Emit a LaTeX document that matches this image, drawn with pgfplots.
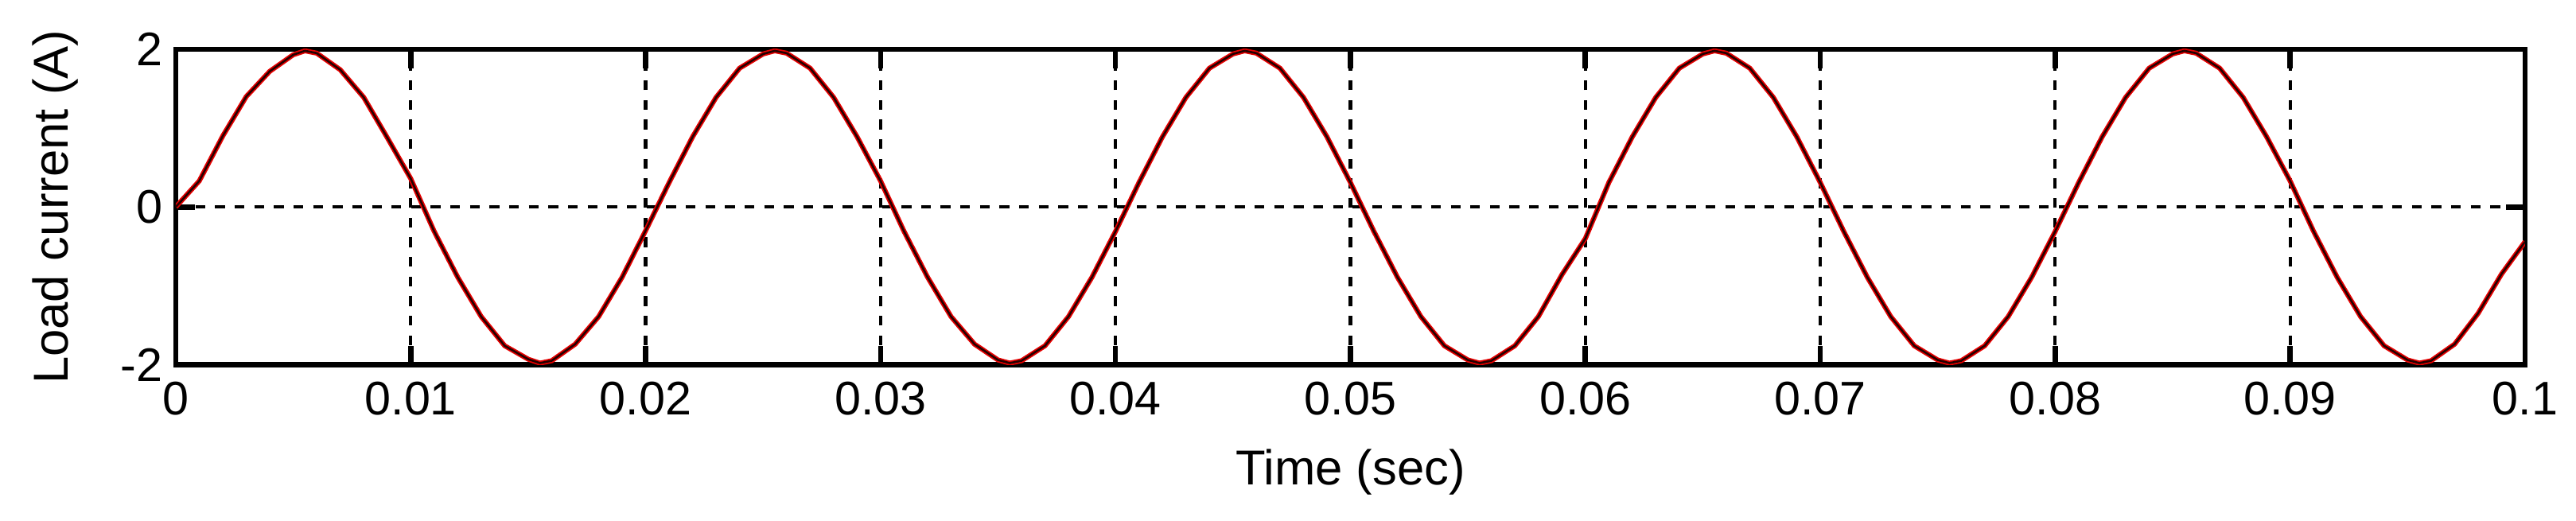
\documentclass[border=0pt]{standalone}
\usepackage{pgfplots}
\pgfplotsset{compat=1.18}
\usepackage{fontspec}
\setmainfont{Liberation Sans}
\pgfplotstableread{
t i
0.000 0.00
0.001 0.33
0.002 0.90
0.003 1.40
0.004 1.72
0.005 1.93
0.0055 1.98
0.006 1.95
0.007 1.74
0.008 1.39
0.009 0.88
0.010 0.36
0.011 -0.31
0.012 -0.89
0.013 -1.39
0.014 -1.76
0.015 -1.93
0.0155 -1.98
0.016 -1.95
0.017 -1.74
0.018 -1.39
0.019 -0.89
0.020 -0.30
0.021 0.31
0.022 0.89
0.023 1.39
0.024 1.76
0.025 1.94
0.0255 1.98
0.026 1.95
0.027 1.76
0.028 1.39
0.029 0.89
0.030 0.33
0.031 -0.31
0.032 -0.89
0.033 -1.39
0.034 -1.74
0.035 -1.94
0.0355 -1.98
0.036 -1.95
0.037 -1.76
0.038 -1.39
0.039 -0.89
0.040 -0.31
0.041 0.31
0.042 0.89
0.043 1.39
0.044 1.76
0.045 1.94
0.0455 1.98
0.046 1.95
0.047 1.76
0.048 1.39
0.049 0.89
0.050 0.31
0.051 -0.31
0.052 -0.89
0.053 -1.39
0.054 -1.76
0.055 -1.94
0.0555 -1.98
0.056 -1.95
0.057 -1.76
0.058 -1.39
0.059 -0.86
0.060 -0.40
0.061 0.31
0.062 0.89
0.063 1.39
0.064 1.76
0.065 1.94
0.0655 1.98
0.066 1.95
0.067 1.76
0.068 1.39
0.069 0.89
0.070 0.31
0.071 -0.31
0.072 -0.89
0.073 -1.39
0.074 -1.76
0.075 -1.94
0.0755 -1.98
0.076 -1.95
0.077 -1.76
0.078 -1.39
0.079 -0.89
0.080 -0.31
0.081 0.31
0.082 0.89
0.083 1.39
0.084 1.76
0.085 1.94
0.0855 1.98
0.086 1.95
0.087 1.76
0.088 1.39
0.089 0.89
0.090 0.33
0.091 -0.31
0.092 -0.89
0.093 -1.39
0.094 -1.76
0.095 -1.94
0.0955 -1.98
0.096 -1.95
0.097 -1.74
0.098 -1.35
0.099 -0.85
0.100 -0.44
}\loadcurrent
\begin{document}
\begin{tikzpicture}
\begin{axis}[
  name=main,
  scale only axis,
  width=21.89cm, height=2.94cm,
  xmin=0, xmax=0.1, ymin=-2, ymax=2,
  xtick={0,0.01,0.02,0.03,0.04,0.05,0.06,0.07,0.08,0.09,0.1},
  xticklabels={0,0.01,0.02,0.03,0.04,0.05,0.06,0.07,0.08,0.09,0.1},
  ytick={-2,0,2},
  yticklabels={-2,0,2},
  /pgf/number format/assume math mode=true,
  tick label style={font=\fontsize{12.5}{14}\selectfont, black},
  xticklabel style={yshift=-1pt},
  label style={font=\fontsize{13}{15}\selectfont},
  xlabel={Time (sec)},
  ylabel={Load current (A)},
  xlabel style={at={([yshift=-1.0cm]rel axis cs:0.5,0)}, anchor=center},
  ylabel style={at={([xshift=-1.12cm]rel axis cs:0,0.5)}, anchor=center, rotate=0},
  axis line style={black, line width=1.4pt},
  tick style={black, line width=1.4pt},
  major tick length=5pt,
  tick align=inside,
  xmajorgrids, ymajorgrids,
  major grid style={black, line width=0.9pt, dash pattern=on 2.6pt off 2.6pt},
  clip=true,
]
\addplot[red!90!black, line width=1.3pt, forget plot] table[x=t, y=i] {\loadcurrent};
\addplot[black!85!red, line width=0.55pt] table[x=t, y=i] {\loadcurrent};
\end{axis}
\pgfresetboundingbox
\path ([xshift=-1.638cm,yshift=-1.454cm]main.south west) rectangle ([xshift=0.475cm,yshift=0.459cm]main.north east);
\end{tikzpicture}
\end{document}
